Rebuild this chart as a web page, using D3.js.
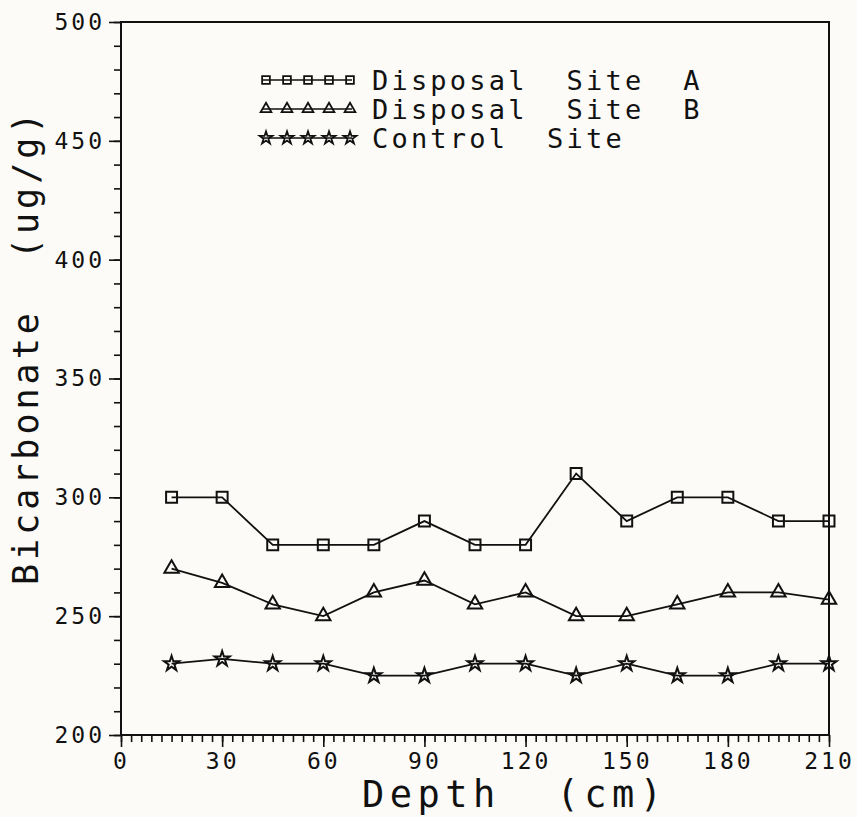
<!DOCTYPE html>
<html>
<head>
<meta charset="utf-8">
<script src="https://cdn.jsdelivr.net/npm/d3@7"></script>
<style>
  body { margin: 0; background: #fcfbf7; }
  text { font-family: "DejaVu Sans Mono", "Liberation Mono", monospace; fill: #111; white-space: pre; }
</style>
</head>
<body>
<div id="main"></div>
<script>
// depth (cm) of each sample
const depths = [15, 30, 45, 60, 75, 90, 105, 120, 135, 150, 165, 180, 195, 210];

// bicarbonate (ug/g) per site
const siteA   = [300, 300, 280, 280, 280, 290, 280, 280, 310, 290, 300, 300, 290, 290];
const siteB   = [270, 264, 255, 250, 260, 265, 255, 260, 250, 250, 255, 260, 260, 257];
const control = [230, 232, 230, 230, 225, 225, 230, 230, 225, 230, 225, 225, 230, 230];

const seriesNames = ['Disposal  Site  A', 'Disposal  Site  B', 'Control  Site'];
const xTicks = [0, 30, 60, 90, 120, 150, 180, 210];
const yTicks = [200, 250, 300, 350, 400, 450, 500];

const width = 857, height = 817;
const margin = { left: 121, top: 22, right: 28, bottom: 82 };
const plotW = width - margin.left - margin.right;
const plotH = height - margin.top - margin.bottom;

const x = d3.scaleLinear().domain([0, 210]).range([0, plotW]);
const y = d3.scaleLinear().domain([200, 500]).range([plotH, 0]);

const symbols = [d3.symbolSquare, d3.symbolTriangle, d3.symbolStar];
const symSizes = [120, 90, 70];
const legendSizes = [60, 50, 50];

let svg = d3.select('#main')
    .append('svg')
        .attr('width', width)
        .attr('height', height);

let g = svg.append('g').attr('transform', `translate(${margin.left},${margin.top})`);

// minor ticks
g.append('g')
    .call(d3.axisLeft(y).tickValues(d3.range(200, 501, 10)).tickSize(7).tickFormat(''))
    .call(a => a.select('.domain').remove())
    .selectAll('line').attr('stroke', '#111').attr('stroke-width', 1.6);

g.append('g')
    .attr('transform', `translate(0,${plotH})`)
    .call(d3.axisBottom(x).tickValues(d3.range(0, 211, 3)).tickSize(7).tickFormat(''))
    .call(a => a.select('.domain').remove())
    .selectAll('line').attr('stroke', '#111').attr('stroke-width', 1.6);

// major ticks + labels
g.append('g')
    .call(d3.axisLeft(y).tickValues(yTicks).tickSize(12).tickPadding(4))
    .call(a => a.select('.domain').remove())
    .call(a => a.selectAll('line').attr('stroke', '#111').attr('stroke-width', 1.6))
    .selectAll('text')
        .attr('font-size', 23)
        .attr('letter-spacing', 3)
        .attr('fill', '#111');

g.append('g')
    .attr('transform', `translate(0,${plotH})`)
    .call(d3.axisBottom(x).tickValues(xTicks).tickSize(12).tickPadding(6))
    .call(a => a.select('.domain').remove())
    .call(a => a.selectAll('line').attr('stroke', '#111').attr('stroke-width', 1.6))
    .selectAll('text')
        .attr('font-size', 23)
        .attr('letter-spacing', 3)
        .attr('fill', '#111');

// frame
g.append('rect')
    .attr('width', plotW)
    .attr('height', plotH)
    .attr('fill', 'none')
    .attr('stroke', '#111')
    .attr('stroke-width', 2);

// axis titles
svg.append('text')
    .attr('x', 362)
    .attr('y', 807)
    .attr('font-size', 37)
    .attr('letter-spacing', 5.5)
    .text('Depth  (cm)');

svg.append('text')
    .attr('transform', 'translate(38,585) rotate(-90)')
    .attr('font-size', 35)
    .attr('letter-spacing', 4)
    .text('Bicarbonate  (ug/g)');

// series
const series = [siteA, siteB, control];
const line = d3.line().x((d, i) => x(depths[i])).y(d => y(d));

series.forEach((vals, s) => {
    g.append('path')
        .datum(vals)
        .attr('d', line)
        .attr('fill', 'none')
        .attr('stroke', '#111')
        .attr('stroke-width', 1.8);

    g.selectAll('.m' + s)
        .data(vals)
        .enter()
        .append('path')
            .attr('class', 'm' + s)
            .attr('transform', (d, i) => `translate(${x(depths[i])},${y(d)})`)
            .attr('d', d3.symbol().type(symbols[s]).size(symSizes[s]))
            .attr('fill', 'none')
            .attr('stroke', '#111')
            .attr('stroke-width', 2);
});

// legend
const legendRows = [80, 109, 138];
const legendX0 = 262, legendX1 = 352;
seriesNames.forEach((name, s) => {
    const ly = legendRows[s];
    svg.append('line')
        .attr('x1', legendX0).attr('x2', legendX1)
        .attr('y1', ly).attr('y2', ly)
        .attr('stroke', '#111').attr('stroke-width', 1.6);
    svg.selectAll('.lm' + s)
        .data(d3.range(5))
        .enter()
        .append('path')
            .attr('class', 'lm' + s)
            .attr('transform', k => `translate(${legendX0 + 4 + k * 21},${ly})`)
            .attr('d', d3.symbol().type(symbols[s]).size(legendSizes[s]))
            .attr('fill', 'none')
            .attr('stroke', '#111')
            .attr('stroke-width', 1.8);
    svg.append('text')
        .attr('x', 372)
        .attr('y', ly + 10)
        .attr('font-size', 27)
        .attr('letter-spacing', 3.2)
        .text(name);
});
</script>
</body>
</html>
